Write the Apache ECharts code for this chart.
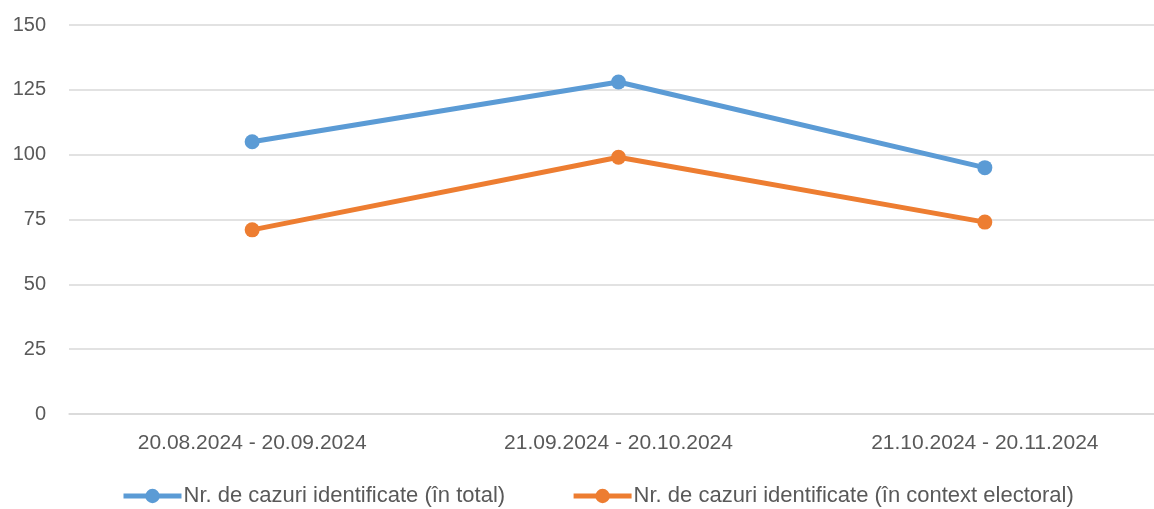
<!DOCTYPE html>
<html>
<head>
<meta charset="utf-8">
<script src="https://cdn.jsdelivr.net/npm/echarts@6/dist/echarts.min.js"></script>
<style>
  html, body { margin: 0; padding: 0; background: #fff; overflow: hidden; }
  #wrap { width: 1154px; height: 509px; overflow: hidden; }
  /* the plot area runs past the right edge of the picture */
  #chart { width: 1168px; height: 509px; }
</style>
</head>
<body>
<div id="wrap"><div id="chart"></div></div>
<script>
const categories = ['20.08.2024 - 20.09.2024', '21.09.2024 - 20.10.2024', '21.10.2024 - 20.11.2024']
const seriesNames = ['Nr. de cazuri identificate (în total)', 'Nr. de cazuri identificate (în context electoral)']
const totalCases = [105, 128, 95]
const electoralCases = [71, 99, 74]
const colors = ['#5B9BD5', '#ED7D31']

const chart = echarts.init(document.getElementById('chart'))

const makeSeries = (name, data, color) => ({
  name: name,
  type: 'line',
  data: data,
  symbol: 'circle',
  symbolSize: 15,
  lineStyle: { width: 5, color: color },
  itemStyle: { color: color },
  emphasis: { disabled: true }
})

chart.setOption({
  animation: false,
  textStyle: { fontFamily: 'Liberation Sans, Arial, sans-serif' },
  grid: { left: 69, right: 0, top: 25, bottom: 95, containLabel: false },
  legend: {
    bottom: -3,
    left: 116,
    itemWidth: 58,
    itemHeight: 18,
    itemGap: 66,
    lineStyle: { width: 5 },
    textStyle: { fontSize: 22, color: '#595959', padding: [0, 0, 0, -3] },
    data: seriesNames
  },
  xAxis: {
    type: 'category',
    data: categories,
    boundaryGap: true,
    axisLine: { show: true, lineStyle: { color: '#D9D9D9', width: 1.5 } },
    axisTick: { show: false },
    axisLabel: { fontSize: 21, color: '#595959', margin: 19 }
  },
  yAxis: {
    type: 'value',
    min: 0,
    max: 150,
    interval: 25,
    axisLine: { show: false },
    axisTick: { show: false },
    axisLabel: { fontSize: 20, color: '#595959', margin: 23 },
    splitLine: { lineStyle: { color: '#D9D9D9', width: 1.5 } }
  },
  series: [
    makeSeries(seriesNames[0], totalCases, colors[0]),
    makeSeries(seriesNames[1], electoralCases, colors[1])
  ]
})
</script>
</body>
</html>
